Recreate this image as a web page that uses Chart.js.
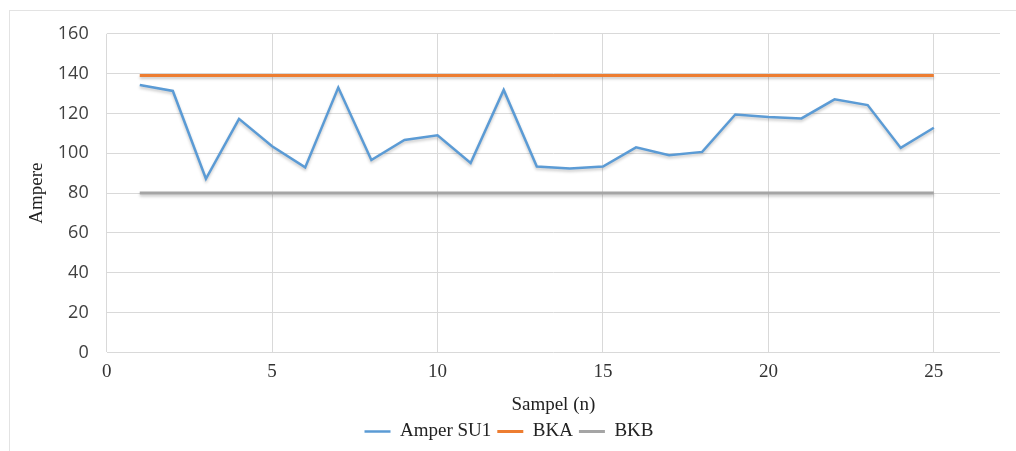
<!DOCTYPE html>
<html>
<head>
<meta charset="utf-8">
<script src="https://cdn.jsdelivr.net/npm/chart.js@4.4.1/dist/chart.umd.min.js"></script>
<style>
  body { margin: 0; background: #fff; }
  #frame {
    position: absolute; left: 9px; top: 10px;
    width: 1020px; height: 450px;
    border: 1px solid #e3e3e3; box-sizing: border-box;
  }
  #wrap { position: absolute; left: 9px; top: 5px; width: 1007px; height: 446px; }
</style>
</head>
<body>
<div id="frame"></div>
<div id="wrap"><canvas id="chart"></canvas></div>
<script>
// data
var sampel = [1, 2, 3, 4, 5, 6, 7, 8, 9, 10, 11, 12, 13, 14, 15, 16, 17, 18, 19, 20, 21, 22, 23, 24, 25];
var amperSU1 = [134.3, 131.3, 87.2, 117.3, 103.5, 92.9, 133, 96.6, 106.7, 109, 95.1, 131.8, 93.3, 92.3, 93.3, 103, 99, 100.7, 119.5, 118.2, 117.5, 127.1, 124.2, 102.7, 112.8];
var bka = [139, 139, 139, 139, 139, 139, 139, 139, 139, 139, 139, 139, 139, 139, 139, 139, 139, 139, 139, 139, 139, 139, 139, 139, 139];
var bkb = [80, 80, 80, 80, 80, 80, 80, 80, 80, 80, 80, 80, 80, 80, 80, 80, 80, 80, 80, 80, 80, 80, 80, 80, 80];
var xTicks = [0, 5, 10, 15, 20, 25];
var yTicks = [0, 20, 40, 60, 80, 100, 120, 140, 160];

function toPoints(values) {
  return values.map(function(v, i) { return { x: sampel[i], y: v }; });
}

// soft shadow under the lines, like the Excel original
var lineShadow = {
  id: 'lineShadow',
  beforeDatasetsDraw: function(chart) {
    var ctx = chart.ctx;
    ctx.save();
    ctx.shadowColor = 'rgba(0,0,0,0.22)';
    ctx.shadowBlur = 3;
    ctx.shadowOffsetY = 2;
  },
  afterDatasetsDraw: function(chart) {
    chart.ctx.restore();
  }
};

var serif = "'Liberation Serif', 'DejaVu Serif', serif";
var sans = "'Open Sans', 'Liberation Sans', sans-serif";

new Chart(document.getElementById('chart'), {
  type: 'line',
  data: {
    datasets: [
      { label: 'Amper SU1', data: toPoints(amperSU1), borderColor: '#5b9bd5', backgroundColor: '#5b9bd5', borderWidth: 2.5 },
      { label: 'BKA', data: toPoints(bka), borderColor: '#ed7d31', backgroundColor: '#ed7d31', borderWidth: 3 },
      { label: 'BKB', data: toPoints(bkb), borderColor: '#a5a5a5', backgroundColor: '#a5a5a5', borderWidth: 3 }
    ]
  },
  options: {
    responsive: true,
    maintainAspectRatio: false,
    animation: false,
    elements: { point: { radius: 0 }, line: { tension: 0 } },
    layout: { padding: { left: 9, right: 16, top: 5, bottom: 0 } },
    plugins: {
      tooltip: { enabled: false },
      legend: {
        position: 'bottom',
        labels: {
          usePointStyle: true,
          pointStyle: 'line',
          pointStyleWidth: 26,
          padding: 6,
          color: '#222',
          font: { family: serif, size: 19 }
        }
      }
    },
    scales: {
      x: {
        type: 'linear',
        min: 0,
        max: 27,
        afterBuildTicks: function(scale) {
          scale.ticks = xTicks.map(function(v) { return { value: v }; });
        },
        grid: { color: '#d9d9d9', drawTicks: false },
        border: { display: false },
        ticks: { padding: 8, color: '#333', font: { family: serif, size: 19 } },
        title: { display: true, text: 'Sampel (n)', color: '#222', padding: { top: 2, bottom: 0 }, font: { family: serif, size: 19 } }
      },
      y: {
        min: 0,
        max: 160,
        afterBuildTicks: function(scale) {
          scale.ticks = yTicks.map(function(v) { return { value: v }; });
        },
        grid: { color: '#d9d9d9', drawTicks: false },
        border: { display: false },
        ticks: { padding: 18, color: '#404040', font: { family: sans, size: 18 } },
        title: { display: true, text: 'Ampere', color: '#222', padding: { top: 8, bottom: -9 }, font: { family: serif, size: 19 } }
      }
    }
  },
  plugins: [lineShadow]
});
</script>
</body>
</html>
